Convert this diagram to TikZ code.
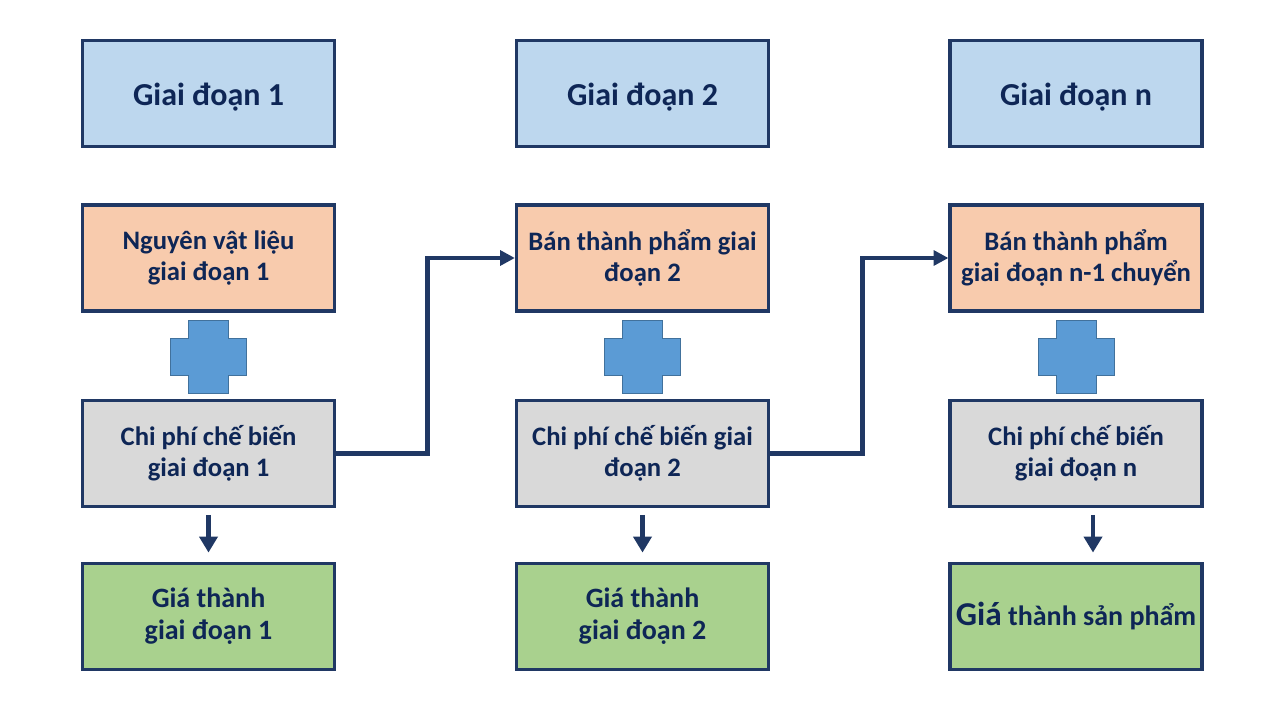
\documentclass[tikz,border=0pt]{standalone}
\usepackage{fontspec}
\setmainfont{Carlito}
\usetikzlibrary{arrows.meta}
\definecolor{navy}{HTML}{203864}
\definecolor{txt}{HTML}{0E2656}
\definecolor{bluef}{HTML}{BDD7EE}
\definecolor{orangef}{HTML}{F8CBAD}
\definecolor{grayf}{HTML}{D9D9D9}
\definecolor{greenf}{HTML}{A9D18E}
\definecolor{plusf}{HTML}{5B9BD5}
\definecolor{plusd}{HTML}{41719C}
\tikzset{
  box/.style={draw=navy, line width=2.4pt, minimum width=189pt, minimum height=79.5pt,
    align=center, text=txt, font=\bfseries\fontsize{20}{23.5}\selectfont, inner sep=2pt},
  stagebox/.style={box, fill=bluef, font=\bfseries\fontsize{24}{28}\selectfont,
    text height=17.5pt, text depth=0pt},
  inbox/.style={box, fill=orangef},
  costbox/.style={box, fill=grayf},
  resbox/.style={box, fill=greenf, font=\bfseries\fontsize{21}{24}\selectfont},
  flow/.style={draw=navy, line width=3.6pt, -{Triangle[length=11pt,width=11pt]}},
  down/.style={draw=navy, line width=3.5pt, -{Triangle[length=12pt,width=13.5pt]}, shorten <=5pt, shorten >=7pt},
  plus/.style={fill=plusf, draw=plusd, line width=0.6pt}
}
\begin{document}
\begin{tikzpicture}[x=0.75pt,y=-0.75pt]
\useasboundingbox (0,0) rectangle (1280,720);
% stage headers
\node[stagebox] (s1) at (208.5,93.5) {Giai đoạn 1};
\node[stagebox] (s2) at (642.5,93.5) {Giai đoạn 2};
\node[stagebox] (s3) at (1076,93.5) {Giai đoạn n};
% inputs
\node[inbox] (i1) at (208.5,258) {Nguyên vật liệu\\giai đoạn 1};
\node[inbox] (i2) at (642.5,258) {Bán thành phẩm giai\\đoạn 2};
\node[inbox] (i3) at (1076,258) {Bán thành phẩm\\giai đoạn n-1 chuyển};
% costs
\node[costbox] (c1) at (208.5,453.5) {Chi phí chế biến\\giai đoạn 1};
\node[costbox] (c2) at (642.5,453.5) {Chi phí chế biến giai\\đoạn 2};
\node[costbox] (c3) at (1076,453.5) {Chi phí chế biến\\giai đoạn n};
% results
\node[resbox] (r1) at (208.5,616.5) {Giá thành\\giai đoạn 1};
\node[resbox] (r2) at (642.5,616.5) {Giá thành\\giai đoạn 2};
\node[resbox] (r3) at (1076,616.5) {{\fontsize{25}{28}\selectfont Giá} thành sản phẩm};
% plus signs
\foreach \cx in {208.5,642.5,1076}{
  \draw[plus] (\cx-20,320) -- (\cx+20,320) -- (\cx+20,338) -- (\cx+38,338) -- (\cx+38,375)
    -- (\cx+20,375) -- (\cx+20,393) -- (\cx-20,393) -- (\cx-20,375) -- (\cx-38,375)
    -- (\cx-38,338) -- (\cx-20,338) -- cycle;
}
% flow connectors
\draw[flow] (c1.east) -- ++(91,0) |- (i2.west);
\draw[flow] (c2.east) -- ++(92,0) |- (i3.west);
% down arrows
\draw[down] (c1.south) -- (r1.north);
\draw[down] (c2.south) -- (r2.north);
\draw[down] ([xshift=12.75pt]c3.south) -- ([xshift=12.75pt]r3.north);
\end{tikzpicture}
\end{document}
